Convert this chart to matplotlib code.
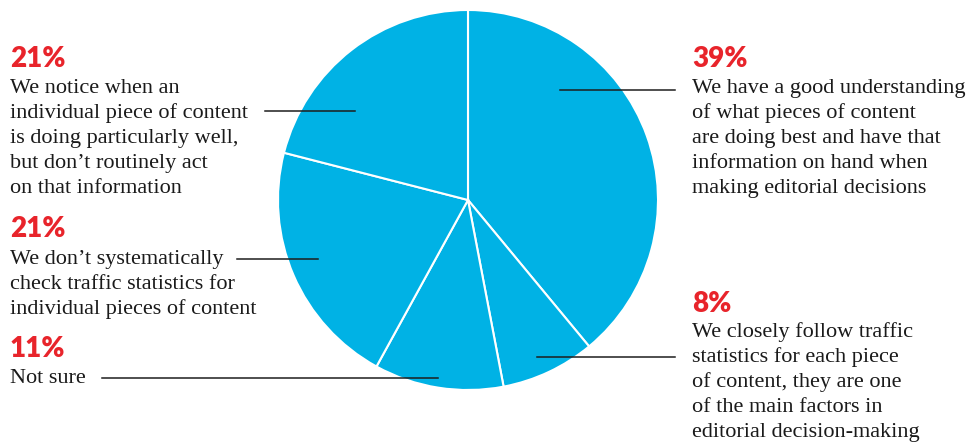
import matplotlib
matplotlib.use('Agg')
import matplotlib.pyplot as plt
from matplotlib.lines import Line2D

# Data
shares = [39, 8, 11, 21, 21]
pct_labels = ['39%', '8%', '11%', '21%', '21%']
descriptions = [
    ['We have a good understanding', 'of what pieces of content',
     'are doing best and have that', 'information on hand when',
     'making editorial decisions'],
    ['We closely follow traffic', 'statistics for each piece',
     'of content, they are one', 'of the main factors in',
     'editorial decision-making'],
    ['Not sure'],
    ['We don\u2019t systematically', 'check traffic statistics for',
     'individual pieces of content'],
    ['We notice when an', 'individual piece of content',
     'is doing particularly well,', 'but don\u2019t routinely act',
     'on that information'],
]

W, H = 971, 444
BLUE = '#00b2e5'
RED = '#e8242b'

fig = plt.figure(figsize=(W / 100, H / 100), dpi=100)

def fx(x):
    return x / W

def fy(y):
    return 1 - y / H

# pie: center (468, 200), radius 190 px
ax = fig.add_axes([fx(278), fy(390), 380 / W, 380 / H])
ax.pie(shares, colors=[BLUE] * len(shares), startangle=90, counterclock=False,
       radius=1, wedgeprops=dict(edgecolor='white', linewidth=1.5))
ax.set_xlim(-1, 1)
ax.set_ylim(-1, 1)
ax.set_aspect('equal')
ax.axis('off')

# label blocks: (text x, percent baseline, first body baseline)
blocks = [
    (692, 67, 93),
    (692, 312, 337),
    (10, 357, 383),
    (10, 237, 264),
    (10, 67, 93),
]
# leader lines (pixel coords)
leaders = [
    ((560, 90), (675, 90)),
    ((537, 357), (675, 357)),
    ((102, 378), (438, 378)),
    ((237, 259), (318, 259)),
    ((265, 111), (355, 111)),
]

for (x, yp, yb), pct, lines in zip(blocks, pct_labels, descriptions):
    fig.text(fx(x), fy(yp), pct, color=RED, fontsize=20, fontweight='heavy',
             family='Lato', va='baseline', ha='left')
    for i, ln in enumerate(lines):
        fig.text(fx(x), fy(yb + 25 * i), ln, color='#1a1a1a', fontsize=16,
                 family='Liberation Serif', va='baseline', ha='left')

for (x0, y0), (x1, y1) in leaders:
    fig.add_artist(Line2D([fx(x0), fx(x1)], [fy(y0), fy(y1)],
                          transform=fig.transFigure, color='#1e1e1e', lw=1.1))

fig.savefig('out.png', dpi=100)
